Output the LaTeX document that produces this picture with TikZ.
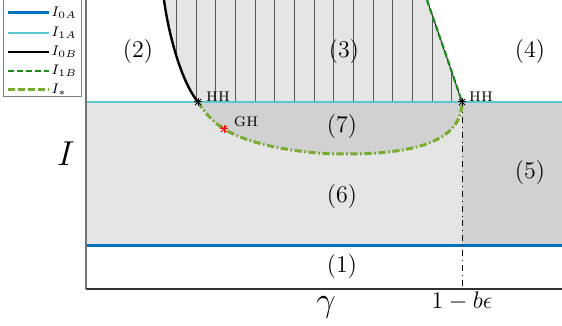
\documentclass[tikz,border=0pt]{standalone}
\usetikzlibrary{calc,positioning}
\definecolor{izeroA}{rgb}{0,0.447,0.741}
\definecolor{ioneA}{rgb}{0.36,0.78,0.82}
\definecolor{ioneB}{rgb}{0.1,0.55,0.1}
\definecolor{istar}{rgb}{0.466,0.674,0.188}
\definecolor{regLight}{gray}{0.9}
\definecolor{regDark}{gray}{0.82}
\tikzset{
  reglabel/.style={font=\large, inner sep=1pt},
  ptlabel/.style={font=\scriptsize, inner sep=1pt},
  curveA/.style={izeroA, line width=1.5pt},
  curveAone/.style={ioneA, line width=0.9pt},
  curveB/.style={black, line width=1.2pt},
  curveBone/.style={ioneB, line width=1.1pt, dash pattern=on 3pt off 1.5pt},
  curveStar/.style={istar, line width=1.5pt,
    dash pattern=on 3.6pt off 1.3pt on 0.8pt off 1.3pt},
  hatchline/.style={draw=black!65, line width=0.5pt},
  legbox/.style={draw=black!50, fill=white, line width=0.5pt},
  legtext/.style={font=\scriptsize, anchor=west, inner sep=1pt},
  asterisk/.pic={\foreach \a in {0,45,90,135}
    \draw[line width=0.5pt] (\a:2.2pt) -- (\a+180:2.2pt);}
}

\begin{document}
\begin{tikzpicture}[x=0.5pt, y=-0.5pt]
  \useasboundingbox (0,0) rectangle (562,326);
  \coordinate (hhL) at (198,102);
  \coordinate (hhR) at (462,102);
  \coordinate (gh) at (224,129);
  \coordinate (bTop) at (164,0);
  \coordinate (gTop) at (427,0);
  \coordinate (axTop) at (86,0);
  \coordinate (axO) at (86,289);
  \coordinate (axEnd) at (562,289);
  \coordinate (vBot) at (462,289);

  % shaded regions
  \fill[regLight] (86,102) rectangle (462,245);
  \fill[regDark] (462,102) rectangle (562,245);
  \fill[regDark] (hhL) .. controls (204,112) and (213,122) .. (gh)
    .. controls (250,145) and (300,154) .. (345,154)
    .. controls (405,154) and (462,145) .. (hhR) -- cycle;
  \begin{scope}
    \clip (bTop) .. controls (168,30) and (180,80) .. (hhL) -- (hhR)
      .. controls (452,72) and (440,38) .. (gTop) -- cycle;
    \fill[regLight] (150,0) rectangle (470,102);
    \foreach \k in {0,...,14}
      \draw[hatchline] ({176.7+19.64*\k},0) -- ++(0,102);
  \end{scope}

  % curves
  \draw[curveAone] (86,102) -- (562,102);
  \draw[curveA] (86,245) -- (562,245);
  \draw[dash dot, line width=0.4pt] (hhR) -- (vBot);
  \draw[curveB] (bTop) .. controls (168,30) and (180,80) .. (hhL);
  \draw[line width=0.4pt] (gTop) .. controls (440,38) and (452,72) .. (hhR);
  \draw[curveBone] (gTop) .. controls (440,38) and (452,72) .. (hhR);
  \draw[curveStar] (hhL) .. controls (204,112) and (213,122) .. (gh)
    .. controls (250,145) and (300,154) .. (345,154)
    .. controls (405,154) and (462,145) .. (hhR);

  \pic at (hhL) {asterisk};
  \pic at (hhR) {asterisk};
  \pic[red] at (gh) {asterisk};

  \node[ptlabel] (hhLtxt) at (218,97) {HH};
  \node[ptlabel] (hhRtxt) at (481,97) {HH};
  \node[ptlabel] (ghtxt) at (246,122) {GH};

  \node[reglabel] (r1) at (342,267) {(1)};
  \node[reglabel] (r2) at (138,52) {(2)};
  \node[reglabel] (r3) at (344,52) {(3)};
  \node[reglabel] (r4) at (530,52) {(4)};
  \node[reglabel] (r5) at (530,173) {(5)};
  \node[reglabel] (r6) at (342,197) {(6)};
  \node[reglabel] (r7) at (342,127) {(7)};

  % axes
  \draw[black!55, line width=0.7pt] (axTop) -- (axO);
  \draw[black!80, line width=0.6pt] (axO) -- (axEnd);
  \node (lblI) at (66,154) {\LARGE $I$};
  \node (lblGamma) at (326,307) {\LARGE $\gamma$};
  \node (lblBeps) at (462,301) {\large $1-b\epsilon$};

  % legend
  \draw[legbox] (3,-1) rectangle (81,97);
  \draw[curveA] (8,13) -- (49,13);
  \node[legtext] (legA) at (49,13) {$I_{0A}$};
  \draw[curveAone, line width=0.6pt] (8,33) -- (49,33);
  \node[legtext] (legB) at (49,33) {$I_{1A}$};
  \draw[curveB] (8,52) -- (49,52);
  \node[legtext] (legC) at (49,52) {$I_{0B}$};
  \draw[curveBone] (8,71) -- (49,71);
  \node[legtext] (legD) at (49,71) {$I_{1B}$};
  \draw[curveStar, dash pattern=on 3.5pt off 1.5pt] (8,90) -- (49,90);
  \node[legtext] (legE) at (49,90) {$I_{*}$};
\end{tikzpicture}
\end{document}
